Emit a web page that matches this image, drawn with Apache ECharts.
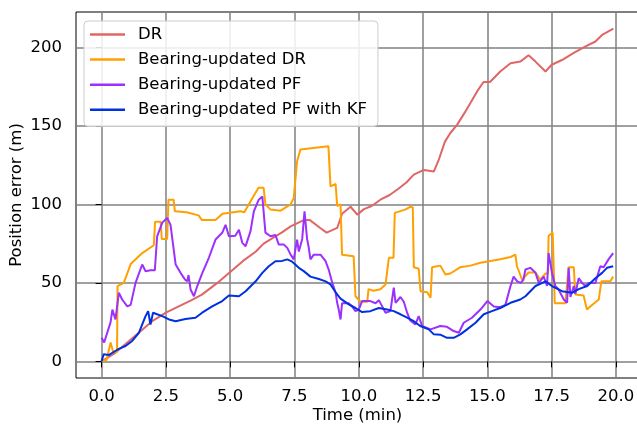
<!DOCTYPE html>
<html>
<head>
<meta charset="utf-8">
<script src="https://cdn.jsdelivr.net/npm/echarts@6/dist/echarts.min.js"></script>
<style>
html,body{margin:0;padding:0;background:#fff;}
#chart{width:637px;height:428px;}
</style>
</head>
<body>
<div id="chart"></div>
<script>
// ---- data (time in min, position error in m) ----
const seriesNames = ['DR', 'Bearing-updated DR', 'Bearing-updated PF', 'Bearing-updated PF with KF'];
const xTicks = [0, 2.5, 5, 7.5, 10, 12.5, 15, 17.5, 20];
const yTicks = [0, 50, 100, 150, 200];

const drData = [[0,0],[0.5,5],[1.0,12],[1.5,19],[2.0,26],[2.5,31],[3.0,35],[3.5,39],[3.9,42.5],[4.5,50],[5.0,57],[5.5,64],[6.0,70],[6.3,75],[6.6,78],[7.0,82],[7.35,86],[7.86,90],[8.1,90],[8.5,85],[8.75,82],[9.16,85],[9.35,94],[9.68,98.5],[9.94,93.5],[10.2,97],[10.5,99],[10.84,103],[11.2,106],[11.5,109.5],[11.85,114],[12.14,119],[12.53,122],[12.92,121],[13.1,128],[13.35,140],[13.56,145.5],[13.82,150.7],[14.1,158],[14.34,164.6],[14.6,172],[14.85,178],[15.1,178],[15.5,184.7],[15.9,190],[16.28,191],[16.6,195],[16.87,191],[17.26,184.7],[17.5,189],[17.9,192],[18.36,196.5],[18.8,200.6],[19.2,203.8],[19.46,208],[19.9,212]];

const bdrData = [[0,0],[0.2,1],[0.35,12],[0.45,6],[0.6,6],[0.62,48],[0.86,50],[1.0,56],[1.13,62],[1.58,69],[2.03,74],[2.08,89],[2.3,89],[2.34,78],[2.55,78],[2.6,103],[2.8,103],[2.85,95.6],[3.3,95],[3.77,93],[3.9,90],[4.43,90],[4.7,94],[5.4,95.6],[5.55,95],[5.86,104],[6.1,110.6],[6.3,110.6],[6.37,100],[6.57,96.7],[6.96,96],[7.35,100],[7.47,104],[7.6,127.4],[7.73,135],[8.82,137],[8.9,111.5],[9.1,113],[9.16,99],[9.29,100],[9.35,68],[9.8,67],[9.87,41.5],[10.07,38],[10.33,38],[10.38,46],[10.57,45],[10.84,46],[11.04,49],[11.17,66],[11.35,66],[11.4,94.6],[11.8,96.7],[12.0,98.5],[12.1,98],[12.14,60],[12.33,59],[12.4,44.7],[12.66,44],[12.79,40.5],[12.85,60],[13.17,61],[13.37,55.3],[13.56,56],[13.95,60],[14.34,61],[14.73,62.8],[15.12,64],[15.5,65],[15.9,66.5],[16.09,68],[16.15,60.6],[16.35,52],[16.6,56.6],[16.87,56.6],[17.06,52],[17.26,56],[17.35,56],[17.38,80],[17.54,82],[17.62,37],[18.03,37],[18.16,60],[18.36,60],[18.42,42.6],[18.74,42],[18.87,33],[19.0,35],[19.33,39.4],[19.43,51],[19.78,51],[19.89,54]];

const bpfData = [[0,15],[0.1,12],[0.35,25],[0.42,33],[0.54,26.7],[0.67,43.7],[0.8,39.4],[1.0,35],[1.13,36],[1.32,50],[1.58,61.7],[1.71,57.4],[1.9,58],[2.07,58],[2.16,79.7],[2.36,88.4],[2.55,91.4],[2.68,87],[2.88,61.7],[3.07,56.4],[3.25,52],[3.33,51],[3.38,55],[3.46,45.8],[3.59,41.5],[3.72,48],[3.91,56],[4.17,66],[4.43,77.6],[4.69,81.9],[4.82,87],[4.95,79.7],[5.2,80],[5.34,83.8],[5.47,75.5],[5.6,73.4],[5.79,83],[5.92,95.6],[6.11,103],[6.25,105],[6.37,82],[6.57,79.7],[6.76,80.5],[6.89,74.4],[7.09,74.4],[7.22,72.3],[7.35,68],[7.47,65],[7.6,77.6],[7.67,70],[7.8,78],[7.89,95.6],[7.99,78],[8.05,73],[8.12,65],[8.25,68],[8.51,68],[8.71,63.8],[8.83,58.5],[8.97,50],[9.1,43.7],[9.16,37.3],[9.22,33],[9.29,26.7],[9.35,37],[9.61,37],[9.74,35],[9.87,32],[10.0,33],[10.13,38.4],[10.45,38.4],[10.65,37],[10.78,39],[11.04,31],[11.23,32],[11.36,47],[11.43,37.3],[11.62,41],[11.75,38],[11.88,31],[12.0,26],[12.2,23.5],[12.33,28.8],[12.46,22.5],[12.79,20.4],[13.17,22.5],[13.43,22],[13.69,19.3],[13.89,18.2],[14.08,24.6],[14.4,27.8],[14.73,33],[15.0,38.4],[15.25,35],[15.5,34.5],[15.7,36],[15.9,48],[16.02,54],[16.16,51],[16.3,50],[16.4,52],[16.48,58.5],[16.67,59.6],[16.87,56.5],[17.0,50],[17.19,54],[17.32,48],[17.38,69],[17.51,56.5],[17.64,48],[17.77,45.8],[17.97,39.4],[18.1,37.3],[18.16,59.6],[18.23,41],[18.36,48],[18.42,43],[18.55,53],[18.68,50],[18.81,48],[18.94,50],[19.2,50],[19.39,60.6],[19.52,60],[19.71,65],[19.89,69]];

const kfData = [[0,0],[0.08,4.5],[0.28,4],[0.42,5.5],[0.67,8],[0.93,9.8],[1.19,13],[1.45,18.2],[1.58,23.5],[1.71,28.8],[1.81,32],[1.9,23.5],[2.0,31],[2.16,30],[2.36,28.8],[2.62,26.7],[2.88,25.6],[3.26,27],[3.65,27.8],[3.91,31],[4.3,35],[4.69,38.4],[4.95,42],[5.34,41.5],[5.6,44.7],[5.99,51],[6.25,56.4],[6.5,60.6],[6.76,63.8],[7.02,64],[7.22,65],[7.41,63.5],[7.67,59.6],[7.86,57.5],[8.12,54],[8.45,52.5],[8.71,51],[8.9,49],[9.1,44],[9.29,40],[9.61,36.3],[9.87,34],[10.13,31.4],[10.45,32],[10.78,34],[11.1,33],[11.36,32],[11.62,30],[11.88,27.8],[12.14,25.6],[12.39,22.5],[12.72,20.4],[12.92,17.2],[13.17,17],[13.43,15],[13.69,15],[13.95,17.2],[14.21,20.4],[14.54,24.6],[14.86,30],[15.18,32],[15.5,34],[15.9,37.3],[16.28,39.4],[16.48,41.5],[16.87,48],[17.26,51],[17.51,48],[17.9,44.7],[18.29,43.7],[18.55,46],[18.88,48],[19.2,53],[19.46,56.4],[19.65,59.6],[19.89,60.6]];

const colors = ['#e06666', '#ffa000', '#9b30ff', '#0030e0'];
const FONT = 'DejaVu Sans';
const FS = 16.5;

const chart = echarts.init(document.getElementById('chart'), null, {renderer: 'canvas'});
const allData = [drData, bdrData, bpfData, kfData];

chart.setOption({
  animation: false,
  backgroundColor: '#fff',
  textStyle: {fontFamily: FONT},
  grid: {left: 76, top: 12, width: 563, height: 366, show: true, borderColor: '#000', borderWidth: 1,
         backgroundColor: 'transparent', containLabel: false, outerBoundsMode: 'none'},
  legend: {
    left: 84, top: 21, orient: 'vertical',
    icon: 'rect',
    itemWidth: 35, itemHeight: 2.5, itemGap: 8.1,
    padding: [5, 11, 8, 6],
    backgroundColor: 'rgba(255,255,255,0.85)',
    borderColor: '#cccccc', borderWidth: 1, borderRadius: 4,
    textStyle: {fontFamily: FONT, fontSize: FS, color: '#000', padding: [0, 0, 0, 8]},
    data: seriesNames
  },
  xAxis: {
    type: 'value', min: -0.995, max: 20.895,
    name: 'Time (min)', nameLocation: 'middle', nameGap: 29.5, nameMoveOverlap: false,
    nameTextStyle: {fontFamily: FONT, fontSize: FS, color: '#000'},
    axisLine: {show: false},
    axisTick: {show: true, inside: false, length: 6, lineStyle: {color: '#000', width: 1}, customValues: xTicks},
    axisLabel: {fontFamily: FONT, fontSize: FS, color: '#000', margin: 10, customValues: xTicks, formatter: v => v.toFixed(1)},
    splitLine: {show: true, lineStyle: {color: '#808080', width: 1.5}}
  },
  yAxis: {
    type: 'value', min: -10.6, max: 222.6,
    name: 'Position error (m)', nameLocation: 'middle', nameGap: 51, nameRotate: 90, nameMoveOverlap: false,
    nameTextStyle: {fontFamily: FONT, fontSize: FS, color: '#000'},
    axisLine: {show: false},
    axisTick: {show: true, inside: false, length: 6, lineStyle: {color: '#000', width: 1}, customValues: yTicks},
    axisLabel: {fontFamily: FONT, fontSize: FS, color: '#000', margin: 14, customValues: yTicks, formatter: v => String(Math.round(v))},
    splitLine: {show: true, lineStyle: {color: '#808080', width: 1.5}}
  },
  series: seriesNames.map((name, i) => ({
    name: name, type: 'line', data: allData[i],
    symbol: 'none', showSymbol: false, smooth: false,
    lineStyle: {color: colors[i], width: 2},
    itemStyle: {color: colors[i]},
    z: 2 + i
  }))
});
</script>
</body>
</html>
